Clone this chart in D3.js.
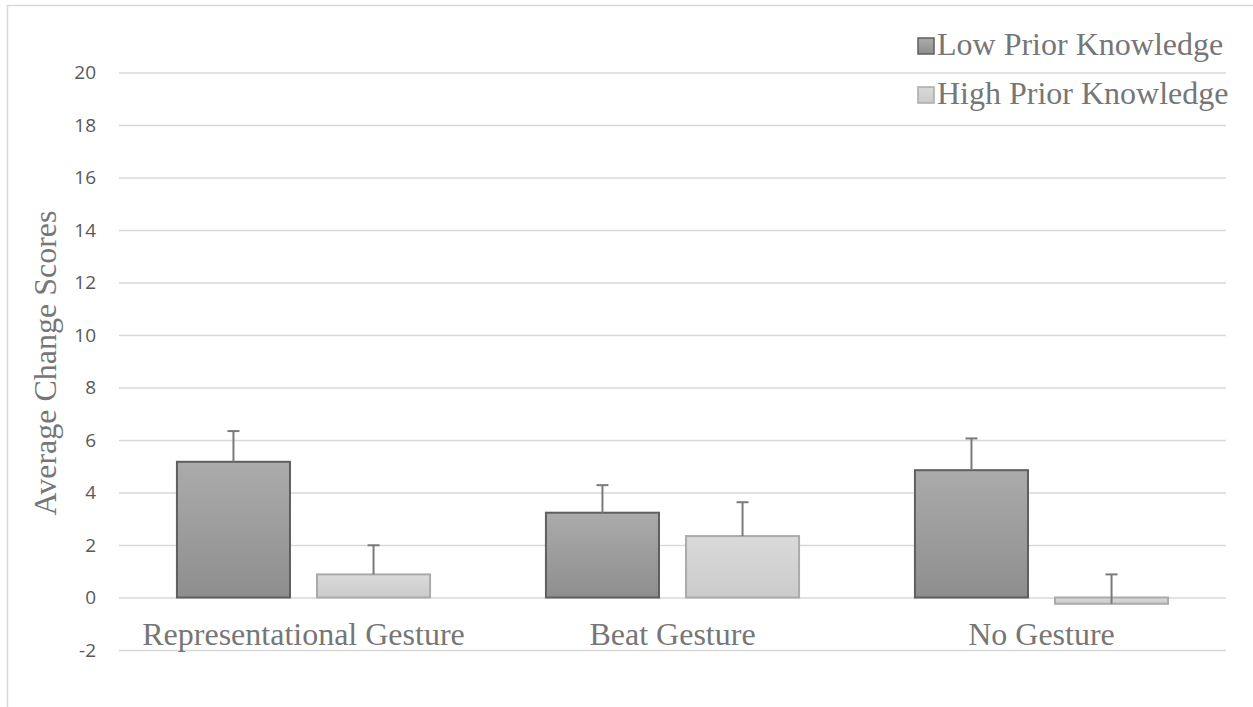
<!DOCTYPE html>
<html><head><meta charset="utf-8">
<script src="https://cdn.jsdelivr.net/npm/d3@7"></script>
<style>body{margin:0;background:#fff}svg{display:block}</style>
</head><body>
<svg id="c" width="1253" height="707"></svg>
<script>
const categories = ["Representational Gesture", "Beat Gesture", "No Gesture"];
const seriesNames = ["Low Prior Knowledge", "High Prior Knowledge"];
const lowValues = [5.17, 3.23, 4.85];
const highValues = [0.88, 2.34, -0.24];
const lowErrors = [1.17, 1.05, 1.21];
const highErrors = [1.11, 1.29, 1.12];
const yTicks = [-2, 0, 2, 4, 6, 8, 10, 12, 14, 16, 18, 20];

const svg = d3.select("#c");
const W = 1253, H = 707;
const left = 119, right = 1226;
const serif = "'Liberation Serif', 'Times New Roman', serif";

const defs = svg.append("defs");
const g1 = defs.append("linearGradient").attr("id","gLow").attr("x1",0).attr("y1",0).attr("x2",0).attr("y2",1);
g1.append("stop").attr("offset","0%").attr("stop-color","#ababab");
g1.append("stop").attr("offset","100%").attr("stop-color","#8e8e8e");
const g2 = defs.append("linearGradient").attr("id","gHigh").attr("x1",0).attr("y1",0).attr("x2",0).attr("y2",1);
g2.append("stop").attr("offset","0%").attr("stop-color","#dadada");
g2.append("stop").attr("offset","100%").attr("stop-color","#cbcbcb");

// frame
svg.append("rect").attr("x",7.5).attr("y",5.5).attr("width",W+20).attr("height",H+20)
  .attr("fill","none").attr("stroke","#d9d9d9").attr("stroke-width",1.5);

const y = d3.scaleLinear().domain([-2, 20]).range([650, 72.5]);
const x0 = d3.scaleBand().domain(categories).range([left, right]).paddingInner(0.314).paddingOuter(0.157);
const x1 = d3.scaleBand().domain(seriesNames).range([0, x0.bandwidth()]).paddingInner(0.193);

// gridlines + tick labels
const yAxis = d3.axisLeft(y).tickValues(yTicks).tickFormat(d=>String(d)).tickSize(-(right-left)).tickPadding(23);
const ga = svg.append("g").attr("transform", `translate(${left},0)`).call(yAxis);
ga.select(".domain").remove();
ga.selectAll(".tick line").attr("stroke","#d9d9d9").attr("stroke-width",1.5);
ga.selectAll(".tick text").attr("fill","#595959").style("font-family","'Open Sans', sans-serif").style("font-size","19px");

const data = categories.map((c,i)=>[
  {cat:c, s:seriesNames[0], v:lowValues[i], e:lowErrors[i]},
  {cat:c, s:seriesNames[1], v:highValues[i], e:highErrors[i]}
]).flat();

const fills = {[seriesNames[0]]:"url(#gLow)", [seriesNames[1]]:"url(#gHigh)"};
const strokes = {[seriesNames[0]]:"#5f5f5f", [seriesNames[1]]:"#ababab"};

svg.append("g").selectAll("rect").data(data).join("rect")
  .attr("x", d=>x0(d.cat)+x1(d.s))
  .attr("width", x1.bandwidth())
  .attr("y", d=>y(Math.max(0,d.v)))
  .attr("height", d=>Math.abs(y(d.v)-y(0)))
  .attr("fill", d=>fills[d.s])
  .attr("stroke", d=>strokes[d.s]).attr("stroke-width",2);

// error bars
const eg = svg.append("g").attr("stroke","#7a7a7a").attr("stroke-width",2);
data.forEach(d=>{
  const cx = x0(d.cat)+x1(d.s)+x1.bandwidth()/2;
  eg.append("line").attr("x1",cx).attr("x2",cx).attr("y1",y(d.v)).attr("y2",y(d.v+d.e));
  eg.append("line").attr("x1",cx-6).attr("x2",cx+6).attr("y1",y(d.v+d.e)).attr("y2",y(d.v+d.e));
});

// category labels
svg.append("g").selectAll("text").data(categories).join("text")
  .attr("x", d=>x0(d)+x0.bandwidth()/2).attr("y", 645)
  .attr("text-anchor","middle").attr("fill","#767676")
  .style("font-family",serif).style("font-size","32px")
  .text(d=>d);

// y title
svg.append("text").attr("transform","translate(56,363) rotate(-90)")
  .attr("text-anchor","middle").attr("fill","#767676")
  .style("font-family",serif).style("font-size","32px")
  .text("Average Change Scores");

// legend
const lg = svg.append("g");
seriesNames.forEach((s,i)=>{
  const base = 55 + i*49;
  lg.append("rect").attr("x",918).attr("y",base-17).attr("width",16).attr("height",16)
    .attr("fill",fills[s]).attr("stroke",strokes[s]).attr("stroke-width",1.5);
  lg.append("text").attr("x",937).attr("y",base).attr("fill","#767676")
    .style("font-family",serif).style("font-size","32px")
    .text(s);
});
</script>
</body></html>
